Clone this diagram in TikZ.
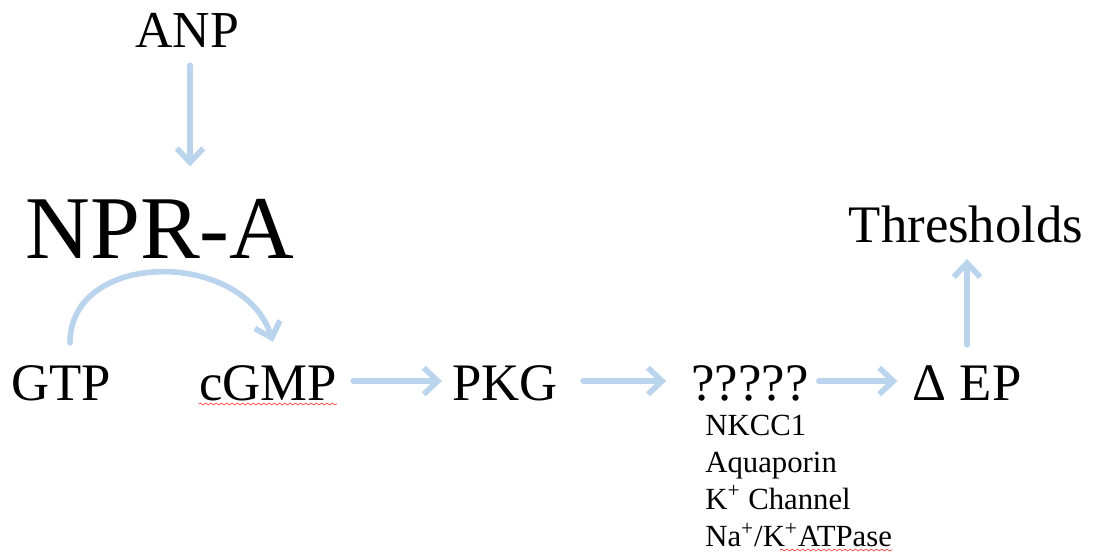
\documentclass[tikz,border=0pt]{standalone}
\usepackage{fontspec}
\setmainfont{Liberation Serif}
\usepackage{tikz}
\usetikzlibrary{arrows.meta, decorations.pathmorphing}
\definecolor{arrowblue}{RGB}{187,212,238}
\tikzset{flow/.style = {-{Straight Barb[length=8pt,width=15pt]}, line width=3.2pt, color=arrowblue, line cap=round}}
\tikzset{word/.style = {inner sep=0pt, anchor=base, font=\fontsize{30}{36}\selectfont}}
\tikzset{item/.style = {inner sep=0pt, anchor=base west, font=\fontsize{17.5}{21}\selectfont}}
\tikzset{spell/.style = {decorate, decoration={snake, amplitude=0.5pt, segment length=3pt}, red!75, line width=0.4pt}}

\begin{document}
\begin{tikzpicture}
    \useasboundingbox (0,0) rectangle (21.92,-11.1);

    \node[word, font=\fontsize{29.5}{34}\selectfont] (anp) at (3.74,-0.94) {ANP};
    \node[word, font=\fontsize{51}{60}\selectfont] (npra) at (3.20,-5.16) {NPR-A};
    \node[word] (gtp)  at (1.22,-8.0) {GTP};
    \node[word] (cgmp) at (5.36,-8.0) {cGMP};
    \node[word] (pkg)  at (10.1,-8.0) {PKG};
    \node[word] (unk)  at (15.0,-8.0) {?????};
    \node[word] (dep)  at (19.34,-8.0) {Δ EP};
    \node[word] (thr)  at (19.32,-4.84) {Thresholds};

    % candidate targets
    \foreach \txt [count=\i] in {NKCC1, Aquaporin, K\textsuperscript{+} Channel, Na\textsuperscript{+}/K\textsuperscript{+}ATPase}
        \node[item] (cand\i) at (14.1,-8.70-0.74*\i+0.74) {\txt};

    \draw[flow, shorten <=0.36cm, shorten >=0.64cm] ([xshift=0.06cm]anp.south) -- ([xshift=0.06cm]anp.south |- npra.north);
    \draw[flow] ([xshift=0.18cm,yshift=0.44cm]gtp.north) .. controls +(0,1.86) and +(-0.6,1.86) .. ([xshift=0.1cm,yshift=0.46cm]cgmp.north);
    \draw[flow, shorten <=0.32cm, shorten >=0.2cm] ([yshift=0.38cm]cgmp.base east) -- ([yshift=0.38cm]pkg.base west);
    \draw[flow, shorten <=0.5cm, shorten >=0.5cm] ([yshift=0.38cm]pkg.base east) -- ([yshift=0.38cm]unk.base west);
    \draw[flow, shorten <=0.2cm, shorten >=0.3cm] ([yshift=0.38cm]unk.base east) -- ([yshift=0.38cm]dep.base west);
    \draw[flow, shorten <=0.4cm, shorten >=0.32cm] (dep.north) -- (dep.north |- thr.south);

    % spell checker marks
    \draw[spell] ([yshift=-0.08cm]cgmp.base west) -- ([yshift=-0.08cm]cgmp.base east);
    \draw[spell] ([xshift=1.5cm,yshift=-0.08cm]cand4.base west) -- ([yshift=-0.08cm]cand4.base east);
\end{tikzpicture}
\end{document}
